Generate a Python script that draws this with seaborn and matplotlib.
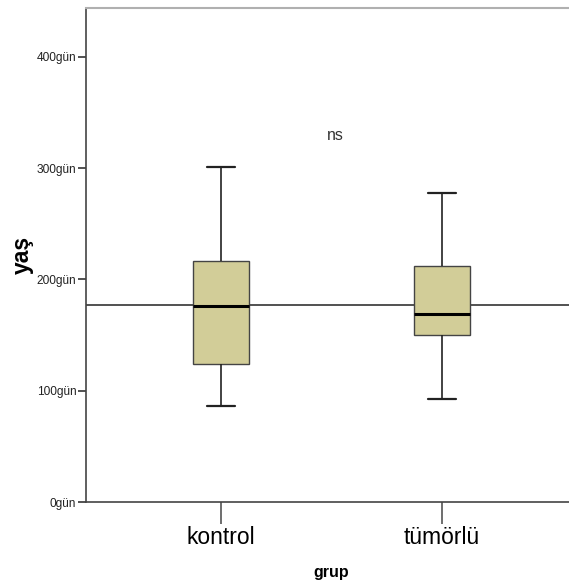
import numpy as np
import pandas as pd
import matplotlib
matplotlib.use("Agg")
import matplotlib.pyplot as plt
import seaborn as sns

# Five-number summaries per group (min, Q1, median, Q3, max), in days
groups = ["kontrol", "tümörlü"]
kontrol_days = [86, 124, 176, 216.5, 301]
tumorlu_days = [93, 150.5, 169, 212, 278]
reference_days = 177
y_ticks = [0, 100, 200, 300, 400]
y_tick_labels = ["0gün", "100gün", "200gün", "300gün", "400gün"]
annotation = "ns"

df = pd.DataFrame({
    "grup": ["kontrol"] * len(kontrol_days) + ["tümörlü"] * len(tumorlu_days),
    "yaş": kontrol_days + tumorlu_days,
})

sns.set_theme(style="white")
plt.rcParams["font.family"] = ["Liberation Sans", "DejaVu Sans"]

fig = plt.figure(figsize=(5.69, 5.85), dpi=100)
ax = fig.add_axes([86 / 569, 83 / 585, 483 / 569, 494 / 585])

edge = "#444444"
sns.boxplot(
    data=df, x="grup", y="yaş", order=groups, ax=ax,
    width=0.254, color="#d2cd98", saturation=1, whis=1.5,
    linewidth=1.0, linecolor=edge,
    boxprops=dict(edgecolor=edge),
    whiskerprops=dict(color="#222222", linewidth=1.2),
    capprops=dict(color="#222222", linewidth=1.6),
    medianprops=dict(color="black", linewidth=2.2),
    showfliers=False,
)

ax.axhline(reference_days, color="#333333", linewidth=1.2, zorder=0.5)

ax.set_xlim(-0.612, 1.578)
ax.set_ylim(0, 444)
ax.set_yticks(y_ticks)
ax.set_yticklabels(y_tick_labels, fontsize=8.6, color="#222222")
ax.set_xticks(range(len(groups)))
ax.set_xticklabels(groups, fontsize=16.5, color="black")

ax.tick_params(axis="y", which="major", left=True, length=6, width=1.2,
               color="#333333", pad=1)
ax.tick_params(axis="x", which="major", bottom=True, length=16, width=1.2,
               color="#555555", pad=1.5)

ax.set_xlabel("grup", fontsize=11.5, fontweight="bold", color="black")
ax.xaxis.set_label_coords((331 - 86) / 483, (502 - 572) / 494)
ax.xaxis.label.set_va("center")
ax.set_ylabel("yaş", fontsize=16.5, fontweight="bold", color="black",
              labelpad=2)

for side in ["left", "bottom"]:
    ax.spines[side].set_color("#444444")
    ax.spines[side].set_linewidth(1.2)
ax.spines["top"].set_color("#b0b0b0")
ax.spines["top"].set_linewidth(1.5)
ax.spines["right"].set_visible(False)

ax.text(0.518, 329, annotation, ha="center", va="center", fontsize=11.5,
        color="#333333")

fig.savefig("out.png", dpi=100)
